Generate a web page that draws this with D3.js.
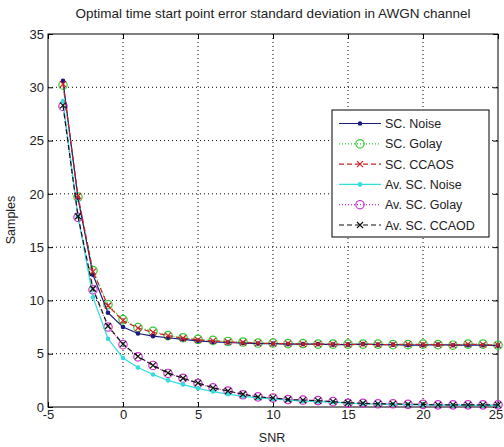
<!DOCTYPE html>
<html><head><meta charset="utf-8">
<script src="https://cdn.jsdelivr.net/npm/d3@7/dist/d3.min.js"></script>
<style>body{margin:0;background:#fff}svg{display:block}text{font-family:"Liberation Sans",Arial,sans-serif;fill:#222}</style>
</head><body>
<svg id="c" width="504" height="447"></svg>
<script>
const snr = d3.range(-4, 26);
const scNoise  = [30.6,19.6,12.4,8.85,7.5,6.9,6.65,6.5,6.35,6.2,6.1,6.05,6.0,5.95,5.95,5.9,5.9,5.9,5.85,5.85,5.9,5.85,5.85,5.8,5.8,5.85,5.8,5.8,5.8,5.75];
const scGolay  = [30.2,19.7,12.8,9.6,8.2,7.45,7.1,6.7,6.5,6.35,6.25,6.15,6.1,6.0,6.0,5.95,5.95,5.9,5.9,5.9,5.9,5.9,5.85,5.85,5.9,5.85,5.8,5.9,5.9,5.8];
const scCCAOS  = [30.3,19.8,12.7,9.5,8.1,7.4,7.0,6.7,6.45,6.3,6.2,6.1,6.05,6.0,5.95,5.95,5.9,5.9,5.9,5.85,5.9,5.85,5.85,5.9,5.85,5.85,5.8,5.9,5.85,5.8];
const avNoise  = [28.7,17.9,10.3,6.4,4.6,3.7,3.05,2.5,2.1,1.75,1.45,1.2,1.0,0.85,0.75,0.65,0.55,0.5,0.45,0.35,0.3,0.28,0.25,0.22,0.2,0.18,0.17,0.15,0.15,0.15];
const avGolay  = [28.2,17.8,11.0,7.5,5.85,4.7,3.9,3.15,2.7,2.2,1.8,1.5,1.15,0.95,0.85,0.7,0.65,0.6,0.5,0.35,0.35,0.3,0.3,0.25,0.25,0.2,0.2,0.2,0.2,0.2];
const avCCAOD  = [28.3,17.9,11.1,7.6,5.9,4.75,3.9,3.2,2.7,2.25,1.8,1.5,1.2,0.95,0.85,0.7,0.65,0.6,0.5,0.4,0.35,0.3,0.3,0.25,0.25,0.2,0.2,0.2,0.2,0.2];
const xTicks = [-5,0,5,10,15,20,25];
const yTicks = [0,5,10,15,20,25,30,35];
const seriesNames = ["SC. Noise","SC. Golay","SC. CCAOS","Av. SC. Noise","Av. SC. Golay","Av. SC. CCAOD"];
const seriesValues = [scNoise, scGolay, scCCAOS, avNoise, avGolay, avCCAOD];
const styles = [
  {color:"#1a1a80", dash:null, marker:"dot"},
  {color:"#33cc33", dash:"1,2", marker:"circle"},
  {color:"#cc2222", dash:"5,3", marker:"x"},
  {color:"#33dddd", dash:null, marker:"dot"},
  {color:"#cc33cc", dash:"1,2", marker:"circle"},
  {color:"#111111", dash:"5,3", marker:"x"}
];

const svg = d3.select("#c");
const L=48, R=498, T=34, B=407;
const x = d3.scaleLinear().domain([-5,25]).range([L,R]);
const y = d3.scaleLinear().domain([0,35]).range([B,T]);
const fmt = d => String(d);

// grid
const g = svg.append("g");
xTicks.slice(1,-1).forEach(t=>g.append("line").attr("x1",x(t)).attr("x2",x(t)).attr("y1",T).attr("y2",B)
  .attr("stroke","#000").attr("stroke-width",1).attr("stroke-dasharray","1,3"));
yTicks.slice(1,-1).forEach(t=>g.append("line").attr("y1",y(t)).attr("y2",y(t)).attr("x1",L).attr("x2",R)
  .attr("stroke","#000").attr("stroke-width",1).attr("stroke-dasharray","1,3"));

// axes
const ax = svg.append("g").attr("transform",`translate(0,${B})`).call(d3.axisBottom(x).tickValues(xTicks).tickSize(-5).tickPadding(3).tickFormat(fmt));
const axT = svg.append("g").attr("transform",`translate(0,${T})`).call(d3.axisTop(x).tickValues(xTicks).tickSize(-5).tickFormat(""));
const ay = svg.append("g").attr("transform",`translate(${L},0)`).call(d3.axisLeft(y).tickValues(yTicks).tickSize(-5).tickPadding(4).tickFormat(fmt));
const ayR = svg.append("g").attr("transform",`translate(${R},0)`).call(d3.axisRight(y).tickValues(yTicks).tickSize(-5).tickFormat(""));
[ax,axT,ay,ayR].forEach(a=>{a.select(".domain").remove();a.selectAll("text").style("font-size","13px").attr("fill","#222");});
ax.selectAll(".tick text").filter(d=>d===25).attr("dx",-2.5);
svg.append("rect").attr("x",L).attr("y",T).attr("width",R-L).attr("height",B-T).attr("fill","none").attr("stroke","#000").attr("stroke-width",1);

// series
function drawMarker(sel, type, color, cx, cy){
  if(type==="dot") sel.append("circle").attr("cx",cx).attr("cy",cy).attr("r",2.3).attr("fill",color);
  else if(type==="circle") sel.append("circle").attr("cx",cx).attr("cy",cy).attr("r",4.2).attr("fill","none").attr("stroke",color).attr("stroke-width",1.2);
  else { const s=3;
    sel.append("path").attr("d",`M${cx-s},${cy-s}L${cx+s},${cy+s}M${cx-s},${cy+s}L${cx+s},${cy-s}`).attr("stroke",color).attr("stroke-width",1.2);
  }
}
const line = d3.line().x((d,i)=>x(snr[i])).y(d=>y(d));
const plot = svg.append("g");
const order=[1,4,0,3,2,5];
order.forEach(k=>{
  const st=styles[k];
  plot.append("path").datum(seriesValues[k]).attr("d",line).attr("fill","none").attr("stroke",st.color)
    .attr("stroke-width",1.2).attr("stroke-dasharray",st.dash);
  const mg=plot.append("g");
  seriesValues[k].forEach((v,i)=>drawMarker(mg,st.marker,st.color,x(snr[i]),y(v)));
});

// legend
const lg = svg.append("g");
lg.append("rect").attr("x",332).attr("y",110).attr("width",157).attr("height",127).attr("fill","#fff").attr("stroke","#000").attr("stroke-width",1);
seriesNames.forEach((n,i)=>{
  const st=styles[i]; const yy=123.5+i*20.3;
  lg.append("line").attr("x1",339).attr("x2",381).attr("y1",yy).attr("y2",yy).attr("stroke",st.color).attr("stroke-width",1.2).attr("stroke-dasharray",st.dash);
  drawMarker(lg,st.marker,st.color,360,yy);
  lg.append("text").attr("x",385).attr("y",yy+4.5).text(n).style("font-size","12.5px");
});

// titles
svg.append("text").attr("x",273).attr("y",18).attr("text-anchor","middle").style("font-size","13.5px").text("Optimal time start point error standard deviation in AWGN channel");
svg.append("text").attr("x",272).attr("y",442).attr("text-anchor","middle").style("font-size","12.5px").text("SNR");
svg.append("text").attr("transform","translate(15,220) rotate(-90)").attr("text-anchor","middle").style("font-size","12.5px").text("Samples");
</script>
</body></html>
